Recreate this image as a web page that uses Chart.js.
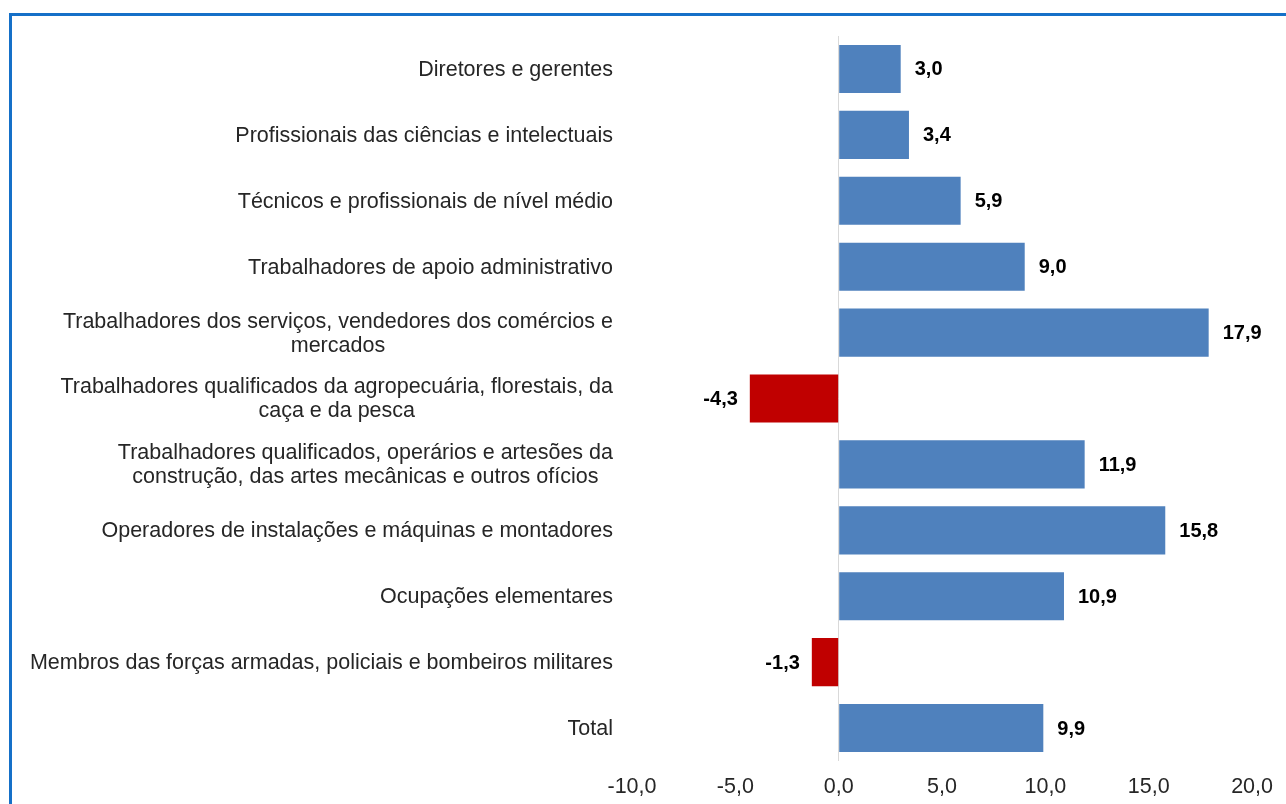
<!DOCTYPE html>
<html>
<head>
<meta charset="utf-8">
<script src="https://cdn.jsdelivr.net/npm/chart.js@4/dist/chart.umd.min.js"></script>
<style>
  html, body { margin: 0; padding: 0; background: #fff; overflow: hidden; }
  #frame {
    position: absolute; left: 9px; top: 13px; width: 1300px; height: 820px;
    border: 3px solid #1570c8; background: #fff;
  }
  #wrap { position: absolute; left: 0; top: 0; width: 1286px; height: 804px; }
</style>
</head>
<body>
<div id="frame"></div>
<div id="wrap"><canvas id="chart" width="1286" height="804"></canvas></div>
<script>
// Categories (top to bottom) and values (%)
var categories = [
  'Diretores e gerentes',
  'Profissionais das ciências e intelectuais',
  'Técnicos e profissionais de nível médio',
  'Trabalhadores de apoio administrativo',
  ['Trabalhadores dos serviços, vendedores dos comércios e', 'mercados'],
  ['Trabalhadores qualificados da agropecuária, florestais, da', 'caça e da pesca'],
  ['Trabalhadores qualificados, operários e artesões da', 'construção, das artes mecânicas e outros ofícios'],
  'Operadores de instalações e máquinas e montadores',
  'Ocupações elementares',
  'Membros das forças armadas, policiais e bombeiros militares',
  'Total'
];
var values = [3.0, 3.4, 5.9, 9.0, 17.9, -4.3, 11.9, 15.8, 10.9, -1.3, 9.9];
var xMin = -10, xMax = 20, xStep = 5;

var posColor = '#4f81bd';
var negColor = '#c00000';
var fontFamily = '"Liberation Sans", Arial, sans-serif';

function fmt(v) { return v.toFixed(1).replace('.', ','); }

// Draw value labels next to the bar ends
var valueLabels = {
  id: 'valueLabels',
  afterDatasetsDraw: function (chart) {
    var ctx = chart.ctx;
    var meta = chart.getDatasetMeta(0);
    ctx.save();
    ctx.font = 'bold 20px ' + fontFamily;
    ctx.fillStyle = '#000';
    ctx.textBaseline = 'middle';
    meta.data.forEach(function (bar, i) {
      var v = values[i];
      if (v >= 0) {
        ctx.textAlign = 'left';
        ctx.fillText(fmt(v), bar.x + 14, bar.y + 1);
      } else {
        ctx.textAlign = 'right';
        ctx.fillText(fmt(v), bar.x - 12, bar.y + 1);
      }
    });
    ctx.restore();
  }
};

// Category labels: block right-aligned to the axis, lines centred within the block
var categoryLabels = {
  id: 'categoryLabels',
  afterDraw: function (chart) {
    var ctx = chart.ctx;
    var yScale = chart.scales.y;
    var right = chart.chartArea.left - 19;
    var lineH = 24;
    ctx.save();
    ctx.font = '21.5px ' + fontFamily;
    ctx.fillStyle = '#262626';
    ctx.textBaseline = 'middle';
    ctx.textAlign = 'center';
    categories.forEach(function (lab, i) {
      var lines = Array.isArray(lab) ? lab : [lab];
      var maxW = 0;
      lines.forEach(function (l) { maxW = Math.max(maxW, ctx.measureText(l).width); });
      var cx = right - maxW / 2;
      var cy = yScale.getPixelForTick(i) + 1;
      var y0 = cy - (lines.length - 1) * lineH / 2;
      lines.forEach(function (l, k) { ctx.fillText(l, cx, y0 + k * lineH); });
    });
    ctx.restore();
  }
};

new Chart(document.getElementById('chart').getContext('2d'), {
  type: 'bar',
  data: {
    labels: categories,
    datasets: [{
      data: values,
      backgroundColor: values.map(function (v) { return v < 0 ? negColor : posColor; }),
      borderWidth: 0,
      barPercentage: 0.73,
      categoryPercentage: 1.0
    }]
  },
  options: {
    indexAxis: 'y',
    responsive: false,
    animation: false,
    layout: { padding: { left: 0, right: 30, top: 36, bottom: 0 } },
    plugins: { legend: { display: false }, tooltip: { enabled: false } },
    scales: {
      x: {
        min: xMin, max: xMax,
        border: { display: false },
        grid: {
          drawTicks: false,
          lineWidth: 1,
          color: function (c) { return c.tick && c.tick.value === 0 ? '#d9d9d9' : 'rgba(0,0,0,0)'; }
        },
        ticks: {
          stepSize: xStep,
          padding: 13,
          color: '#262626',
          font: { family: fontFamily, size: 21.5 },
          callback: function (v) { return fmt(v); }
        },
        afterFit: function (s) { s.height = 43; }
      },
      y: {
        border: { display: false },
        grid: { display: false, drawTicks: false },
        ticks: { display: false },
        afterFit: function (s) { s.width = 632; }
      }
    }
  },
  plugins: [valueLabels, categoryLabels]
});
</script>
</body>
</html>
